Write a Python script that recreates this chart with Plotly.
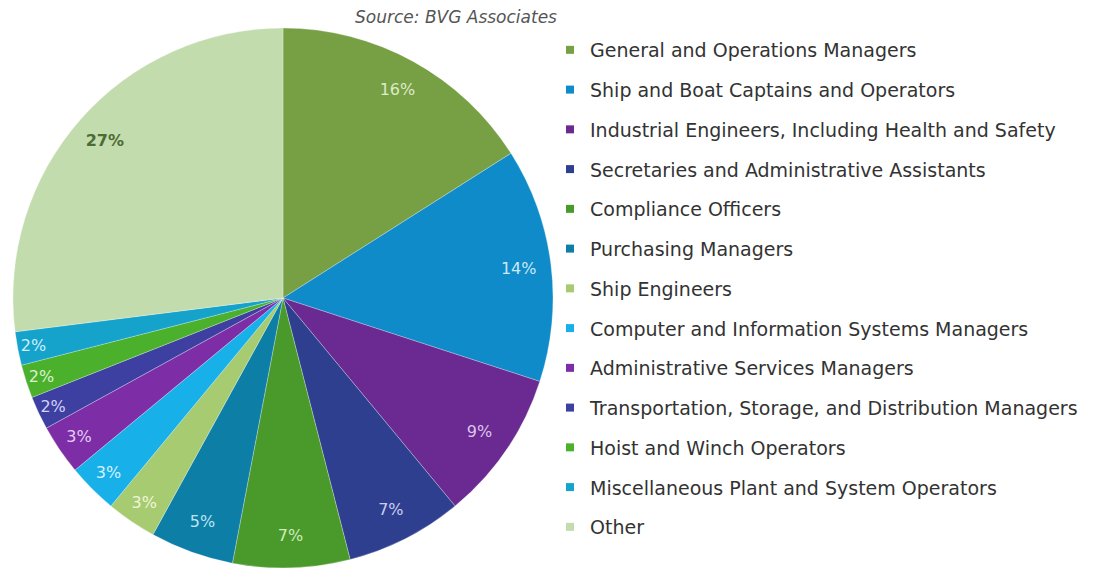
import plotly.graph_objects as go

labels = [
    "General and Operations Managers",
    "Ship and Boat Captains and Operators",
    "Industrial Engineers, Including Health and Safety",
    "Secretaries and Administrative Assistants",
    "Compliance Officers",
    "Purchasing Managers",
    "Ship Engineers",
    "Computer and Information Systems Managers",
    "Administrative Services Managers",
    "Transportation, Storage, and Distribution Managers",
    "Hoist and Winch Operators",
    "Miscellaneous Plant and System Operators",
    "Other",
]
values = [16, 14, 9, 7, 7, 5, 3, 3, 3, 2, 2, 2, 27]
colors = ["#77a045", "#0f8bc9", "#6a2a91", "#2f3f8f", "#4a9a2b", "#0d7fa7",
          "#a6cb70", "#17b0e8", "#7d2ea6", "#3e40a1", "#4bb12d", "#15a3cc", "#c3dcae"]
text_colors = ["#dcebc8", "#cde8f6", "#dcc4ec", "#c9cdf2", "#cdebbd", "#bfe3f2",
               "#eef6d8", "#d4f2ff", "#e4ccf3", "#d2d3fa", "#daf2cb", "#cdeef9", "#4d6b34"]
source_text = "Source: BVG Associates"

domain = dict(x=[5 / 1093, 545 / 1093], y=[9 / 569, 549 / 569])
templates = ["<b>%{percent:.0%}</b>" if lab == "Other" else "%{percent:.0%}" for lab in labels]

fig = go.Figure()
# main pie (slices)
fig.add_trace(go.Pie(
    labels=labels, values=values, sort=False, direction="clockwise", rotation=0,
    marker=dict(colors=colors, line=dict(color="rgba(255,255,255,0.45)", width=0.6)),
    textinfo="none", showlegend=False, domain=domain,
    hoverinfo="label+percent",
))
# transparent ring carrying the percentage labels near the rim
fig.add_trace(go.Pie(
    labels=labels, values=values, sort=False, direction="clockwise", rotation=0,
    hole=0.76,
    marker=dict(colors=["rgba(0,0,0,0)"] * len(labels), line=dict(width=0)),
    texttemplate=templates, textposition="inside",
    insidetextorientation="horizontal",
    insidetextfont=dict(family="DejaVu Sans", size=16, color=text_colors),
    showlegend=False, domain=domain, hoverinfo="skip",
))

for lab, col in zip(labels, colors):
    fig.add_trace(go.Scatter(
        x=[None], y=[None], mode="markers", name=lab,
        marker=dict(symbol="square", size=8, color=col),
        legendgroup=lab, showlegend=True, hoverinfo="skip",
    ))

fig.add_annotation(
    text="<i>" + source_text + "</i>", xref="paper", yref="paper",
    x=551 / 1093, y=(569 - 9) / 569, xanchor="right", yanchor="middle",
    showarrow=False,
    font=dict(family="DejaVu Sans", size=17, color="#555555"),
)

fig.update_layout(
    width=1093, height=569,
    margin=dict(l=0, r=0, t=0, b=0),
    paper_bgcolor="white", plot_bgcolor="white",
    xaxis=dict(visible=False), yaxis=dict(visible=False),
    legend=dict(
        x=542 / 1093, y=(569 - 23) / 569, xanchor="left", yanchor="top",
        font=dict(family="DejaVu Sans", size=19, color="#333333"),
        tracegroupgap=12.05, itemwidth=30, bgcolor="rgba(0,0,0,0)",
    ),
)

fig.write_html("out.html")
